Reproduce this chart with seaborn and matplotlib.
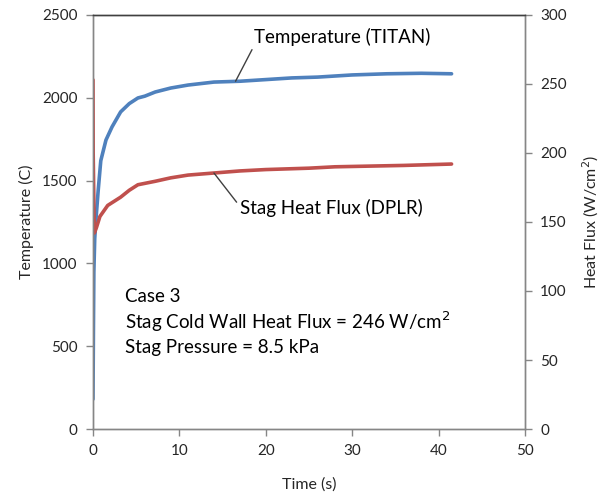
import matplotlib
matplotlib.use("Agg")
import matplotlib.pyplot as plt
import seaborn as sns
import pandas as pd

# ---- data ----
temp_time = [0, 0.05, 0.1, 0.2, 0.35, 0.6, 0.9, 1.5, 2.2, 3.2, 4.2, 5.2, 6.0, 7.2,
             9.0, 11.0, 14.0, 17.0, 20.0, 23.0, 26.0, 30.0, 34.0, 38.0, 41.5]
temp_vals = [180, 600, 950, 1150, 1270, 1440, 1620, 1745, 1824, 1915, 1965, 1999,
             2010, 2035, 2059, 2077, 2095, 2100, 2110, 2120, 2125, 2138, 2145, 2148, 2145]

flux_time = [0, 0.02, 0.15, 0.4, 0.8, 1.7, 3.2, 4.2, 5.2, 6.0, 7.2, 9.0, 11.0, 14.0,
             17.0, 20.0, 25.0, 28.0, 32.0, 36.0, 41.5]
flux_vals = [253, 200, 142, 146, 154, 162, 168, 173, 177, 178, 179.5, 182, 184, 185.5,
             187, 188, 189, 190, 190.5, 191, 192]

x_ticks = [0, 10, 20, 30, 40, 50]
left_ticks = [0, 500, 1000, 1500, 2000, 2500]
right_ticks = [0, 50, 100, 150, 200, 250, 300]

temp_df = pd.DataFrame({"Time": temp_time, "Temperature": temp_vals})
flux_df = pd.DataFrame({"Time": flux_time, "HeatFlux": flux_vals})

sns.set_style("white")
plt.rcParams["font.family"] = ["Lato", "DejaVu Sans"]

fig = plt.figure(figsize=(6.12, 4.98), dpi=100)
ax = fig.add_axes([93 / 612, 69 / 498, 432 / 612, 414 / 498])
ax2 = ax.twinx()

BLUE = "#4F81BD"
RED = "#C0504D"
GRAY = "#868686"
TXT = "#262626"

sns.lineplot(data=temp_df, x="Time", y="Temperature", ax=ax, color=BLUE,
             linewidth=2.6, sort=False, estimator=None)
sns.lineplot(data=flux_df, x="Time", y="HeatFlux", ax=ax2, color=RED,
             linewidth=2.6, sort=False, estimator=None)

ax.set_xlim(0, 50)
ax.set_ylim(0, 2500)
ax2.set_ylim(0, 300)
ax.set_xticks(x_ticks)
ax.set_yticks(left_ticks)
ax2.set_yticks(right_ticks)

ax.set_xlabel("Time (s)", fontsize=11.5, color=TXT, labelpad=14)
ax.set_ylabel("Temperature (C)", fontsize=11.5, color=TXT, labelpad=6)
ax2.set_ylabel("Heat Flux (W/cm$^{2}$)", fontsize=11.5, color=TXT, labelpad=10)

for a in (ax, ax2):
    for s in ("left", "right", "bottom"):
        a.spines[s].set_color(GRAY)
        a.spines[s].set_linewidth(1.0)
    a.spines["top"].set_color("#404040")
    a.spines["top"].set_linewidth(1.0)
    a.tick_params(axis="both", direction="out", length=5, width=1, color=GRAY,
                  labelsize=11, labelcolor=TXT, pad=6)
ax.tick_params(axis="y", left=True, right=False)
ax.tick_params(axis="x", bottom=True)
ax2.tick_params(axis="y", right=True, left=False)
ax.grid(False)
ax2.grid(False)

FS = 13.5
# annotations
ax.annotate("Temperature (TITAN)", xy=(16.5, 2100), xytext=(18.6, 2365),
            fontsize=FS, color="black", va="center", ha="left",
            arrowprops=dict(arrowstyle="-", color="#404040", lw=1.0,
                            shrinkA=0, shrinkB=0, relpos=(0.0, 0.0)))
ax2.annotate("Stag Heat Flux (DPLR)", xy=(14.0, 185.5), xytext=(17.0, 160),
             fontsize=FS, color="black", va="center", ha="left",
             arrowprops=dict(arrowstyle="-", color="#404040", lw=1.0,
                             shrinkA=0, shrinkB=0, relpos=(0.0, 0.6)))

ax.text(3.7, 800, "Case 3", fontsize=FS, color="black", va="center")
ax.text(3.7, 648, "Stag Cold Wall Heat Flux = 246 W/cm$^2$", fontsize=FS,
        color="black", va="center")
ax.text(3.7, 490, "Stag Pressure = 8.5 kPa", fontsize=FS, color="black", va="center")

fig.savefig("out.png", dpi=100)
